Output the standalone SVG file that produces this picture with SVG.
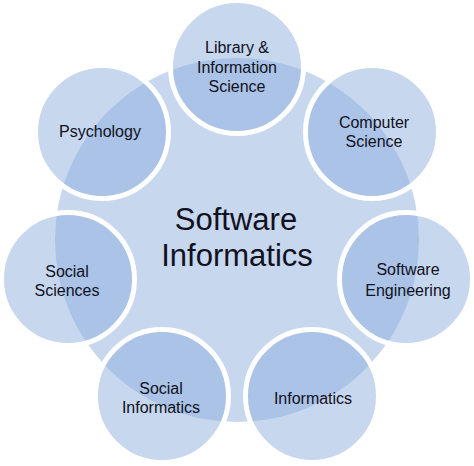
<svg xmlns="http://www.w3.org/2000/svg" width="474" height="466" viewBox="0 0 474 466">
<style>
.hub{fill:#8dafdd;fill-opacity:0.5}
.sat{fill:#8dafdd;fill-opacity:0.5;stroke:#ffffff;stroke-width:5}
.lbl{font-family:"Liberation Sans",Arial,sans-serif;font-size:16px;fill:#111122;text-anchor:middle}
.big{font-family:"Liberation Sans",Arial,sans-serif;font-size:31px;fill:#111122;text-anchor:middle}
</style>
<rect width="474" height="466" fill="#ffffff"/>
<g id="hub">
<circle class="hub" cx="237" cy="240" r="182"/>
<text class="big" x="236" y="230">Software</text>
<text class="big" x="237" y="266">Informatics</text>
</g>
<g id="connectors"></g>
<g id="library">
<circle class="sat" cx="237" cy="67" r="66.5"/>
<text class="lbl" x="237" y="53">Library &amp;</text>
<text class="lbl" x="237" y="73">Information</text>
<text class="lbl" x="237" y="92">Science</text>
</g>
<g id="computer">
<circle class="sat" cx="372" cy="132" r="66.5"/>
<text class="lbl" x="374" y="128">Computer</text>
<text class="lbl" x="374" y="147">Science</text>
</g>
<g id="softeng">
<circle class="sat" cx="406" cy="279" r="66.5"/>
<text class="lbl" x="408" y="275">Software</text>
<text class="lbl" x="408" y="296">Engineering</text>
</g>
<g id="informatics">
<circle class="sat" cx="312" cy="396" r="66.5"/>
<text class="lbl" x="313" y="404">Informatics</text>
</g>
<g id="socialinformatics">
<circle class="sat" cx="162" cy="396" r="66.5"/>
<text class="lbl" x="161" y="394">Social</text>
<text class="lbl" x="161" y="413">Informatics</text>
</g>
<g id="socialsciences">
<circle class="sat" cx="68" cy="279" r="66.5"/>
<text class="lbl" x="67" y="277">Social</text>
<text class="lbl" x="67" y="296">Sciences</text>
</g>
<g id="psychology">
<circle class="sat" cx="102" cy="132" r="66.5"/>
<text class="lbl" x="100" y="137">Psychology</text>
</g>
</svg>
